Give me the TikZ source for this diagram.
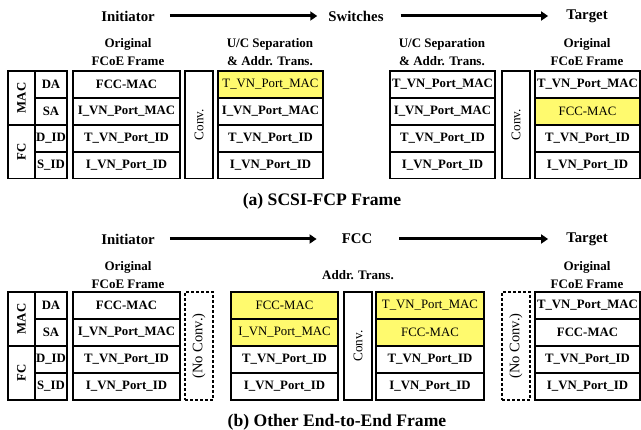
\documentclass[tikz,border=0pt]{standalone}
\usepackage{fontspec}
\setmainfont{Liberation Serif}
\usetikzlibrary{arrows.meta}
\definecolor{hlyellow}{RGB}{255,250,110}
\tikzset{
  box/.style={draw, line width=1.7pt, inner sep=0pt, outer sep=0pt, align=center},
  bt/.style={font=\fontsize{12.8}{14}\selectfont\bfseries},
  hl/.style={fill=hlyellow, font=\fontsize{12.8}{14}\selectfont},
  convbox/.style={font=\fontsize{13.2}{14}\selectfont},
  dbox/.style={dash pattern=on 3pt off 2pt, font=\fontsize{14.5}{16}\selectfont},
  ttl/.style={font=\fontsize{14.8}{16}\selectfont\bfseries, inner sep=0pt},
  hdr/.style={font=\fontsize{13}{17.5}\selectfont\bfseries, align=center, inner sep=0pt},
  captext/.style={font=\fontsize{17.6}{20}\selectfont\bfseries, inner sep=0pt},
  flow/.style={line width=3pt, -{Triangle[length=7pt,width=9pt]}}
}
% \cellat{name}{xl}{xr}{yt}{yb}{style}{text}
\newcommand\cellat[7]{\node[box,#6,minimum width={#3pt-#2pt},minimum height={#5pt-#4pt}] (#1) at ({(#2+#3)/2},{(#4+#5)/2}) {#7};}
% \fourcol{prefix}{xl}{xr}{t1}{t2}{t3}{t4}
\newcommand\fourcol[7]{%
  \cellat{#1-1}{#2}{#3}{\ya}{\yb}{\sA}{#4}%
  \cellat{#1-2}{#2}{#3}{\yb}{\yc}{\sB}{#5}%
  \cellat{#1-3}{#2}{#3}{\yc}{\yd}{\sC}{#6}%
  \cellat{#1-4}{#2}{#3}{\yd}{\ye}{\sD}{#7}%
}
\begin{document}
\begin{tikzpicture}[x=1pt,y=-1pt]
\useasboundingbox (0,0) rectangle (641,430);

%% ===== (a) =====
\node[ttl] (ia) at (128,16) {Initiator};
\node[ttl] (sw) at (356,16) {Switches};
\node[ttl] (ta) at (587,16) {Target};
\draw[flow] ([xshift=15pt]ia.east) -- ([xshift=-11pt]sw.west);
\draw[flow] ([xshift=17pt]sw.east) -- ([xshift=-18pt]ta.west);

\node[hdr] (ha1) at (128,52) {Original\\FCoE Frame};
\node[hdr] (ha2) at (270,52) {U/C Separation\\\& Addr. Trans.};
\node[hdr] (ha3) at (442,52) {U/C Separation\\\& Addr. Trans.};
\node[hdr] (ha4) at (587,52) {Original\\FCoE Frame};

\def\ya{71}\def\yb{98}\def\yc{125}\def\yd{152}\def\ye{178.5}
\cellat{amac}{8}{35}{71}{125}{bt}{\rotatebox{90}{MAC}}
\cellat{afc}{8}{35}{125}{178.5}{bt}{\rotatebox{90}{FC}}
\def\sA{bt}\def\sB{bt}\def\sC{bt}\def\sD{bt}
\fourcol{alb}{35}{67}{DA}{SA}{D\_ID}{S\_ID}
\fourcol{ao}{73}{180}{FCC-MAC}{I\_VN\_Port\_MAC}{T\_VN\_Port\_ID}{I\_VN\_Port\_ID}
\cellat{aconv1}{185}{213}{71}{178.5}{convbox}{\rotatebox{90}{Conv.}}
\def\sA{hl}
\fourcol{au1}{218}{323}{T\_VN\_Port\_MAC}{I\_VN\_Port\_MAC}{T\_VN\_Port\_ID}{I\_VN\_Port\_ID}
\def\sA{bt}
\fourcol{au2}{390}{495}{T\_VN\_Port\_MAC}{I\_VN\_Port\_MAC}{T\_VN\_Port\_ID}{I\_VN\_Port\_ID}
\cellat{aconv2}{502}{530}{71}{178.5}{convbox}{\rotatebox{90}{Conv.}}
\def\sB{hl}
\fourcol{atg}{535}{640}{T\_VN\_Port\_MAC}{FCC-MAC}{T\_VN\_Port\_ID}{I\_VN\_Port\_ID}

\node[captext] (capa) at (322,201) {(a) SCSI-FCP Frame};

%% ===== (b) =====
\node[ttl] (ib) at (128,239) {Initiator};
\node[ttl] (fcc) at (357,239) {FCC};
\node[ttl] (tb) at (587,239) {Target};
\draw[flow] ([xshift=15pt]ib.east) -- ([xshift=-25pt]fcc.west);
\draw[flow] ([xshift=27pt]fcc.east) -- ([xshift=-18pt]tb.west);

\node[hdr] (hb1) at (128,275) {Original\\FCoE Frame};
\node[hdr] (hb2) at (358,275) {Addr. Trans.};
\node[hdr] (hb3) at (587,275) {Original\\FCoE Frame};

\def\ya{292}\def\yb{319}\def\yc{346}\def\yd{373}\def\ye{400}
\cellat{bmac}{8}{35}{292}{346}{bt}{\rotatebox{90}{MAC}}
\cellat{bfc}{8}{35}{346}{400}{bt}{\rotatebox{90}{FC}}
\def\sA{bt}\def\sB{bt}\def\sC{bt}\def\sD{bt}
\fourcol{blb}{35}{67}{DA}{SA}{D\_ID}{S\_ID}
\fourcol{bo}{73}{180}{FCC-MAC}{I\_VN\_Port\_MAC}{T\_VN\_Port\_ID}{I\_VN\_Port\_ID}
\cellat{bnc1}{185}{213}{292}{400}{dbox}{\rotatebox{90}{(No Conv.)}}
\def\sA{hl}\def\sB{hl}
\fourcol{by1}{231}{338}{FCC-MAC}{I\_VN\_Port\_MAC}{T\_VN\_Port\_ID}{I\_VN\_Port\_ID}
\cellat{bconv}{344}{372}{292}{400}{convbox}{\rotatebox{90}{Conv.}}
\fourcol{by2}{376}{484}{T\_VN\_Port\_MAC}{FCC-MAC}{T\_VN\_Port\_ID}{I\_VN\_Port\_ID}
\cellat{bnc2}{502}{530}{292}{400}{dbox}{\rotatebox{90}{(No Conv.)}}
\def\sA{bt}\def\sB{bt}
\fourcol{btg}{535}{640}{T\_VN\_Port\_MAC}{FCC-MAC}{T\_VN\_Port\_ID}{I\_VN\_Port\_ID}

\node[captext] (capb) at (337,422) {(b) Other End-to-End Frame};
\end{tikzpicture}
\end{document}
